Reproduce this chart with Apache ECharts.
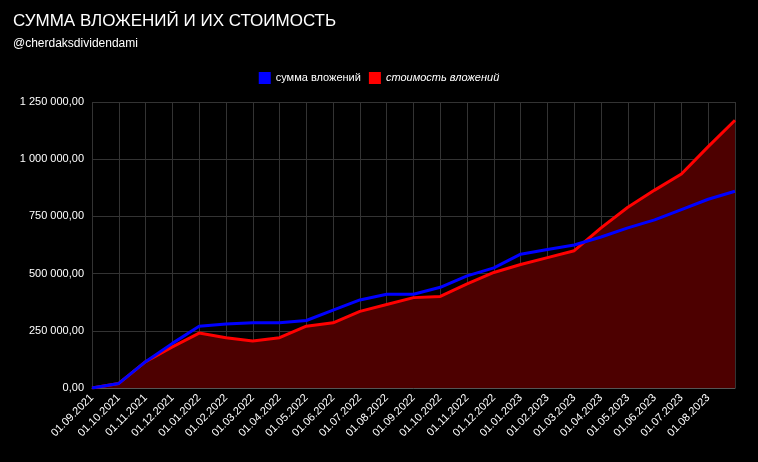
<!DOCTYPE html>
<html><head><meta charset="utf-8">
<script src="https://cdn.jsdelivr.net/npm/echarts@6/dist/echarts.min.js"></script>
<style>html,body{margin:0;background:#000}#c{width:758px;height:462px}</style>
</head><body><div id="c"></div>
<script>
var dates = ['01.09.2021','01.10.2021','01.11.2021','01.12.2021','01.01.2022','01.02.2022','01.03.2022','01.04.2022','01.05.2022','01.06.2022','01.07.2022','01.08.2022','01.09.2022','01.10.2022','01.11.2022','01.12.2022','01.01.2023','01.02.2023','01.03.2023','01.04.2023','01.05.2023','01.06.2023','01.07.2023','01.08.2023','01.09.2023'];
var invested = [0,20000,115000,195000,270000,280000,285000,285000,295000,340000,385000,410000,410000,440000,490000,525000,585000,605000,625000,660000,700000,735000,780000,825000,860000];
var value = [0,20000,115000,180000,240000,220000,205000,220000,270000,285000,335000,365000,395000,400000,455000,505000,540000,570000,600000,700000,790000,865000,935000,1055000,1170000];

function fmt(v) {
	var s = Math.round(v).toString().replace(/\B(?=(\d{3})+(?!\d))/g, ' ');
	return s + ',00';
}

var chart = echarts.init(document.getElementById('c'));
chart.setOption({
	backgroundColor: '#000',
	title: {
		text: 'СУММА ВЛОЖЕНИЙ И ИХ СТОИМОСТЬ',
		subtext: '@cherdaksdividendami',
		left: 8, top: 8,
		textStyle: {color: '#fff', fontSize: 17, fontWeight: 'normal', fontFamily: 'Liberation Sans'},
		subtextStyle: {color: '#fff', fontSize: 12, fontFamily: 'Liberation Sans'},
		itemGap: 8
	},
	legend: {
		top: 67, left: 'center', itemWidth: 12, itemHeight: 12, icon: 'rect',
		textStyle: {color: '#fff', fontSize: 11},
		data: [{name: 'сумма вложений'}, {name: 'стоимость вложений', textStyle: {fontStyle: 'italic'}}]
	},
	grid: {left: 92, right: 23, top: 102, bottom: 74},
	xAxis: {
		type: 'category', boundaryGap: false, data: dates,
		axisLine: {lineStyle: {color: '#555'}},
		axisTick: {show: false},
		splitLine: {show: true, lineStyle: {color: '#333'}},
		axisLabel: {color: '#fff', rotate: 45, fontSize: 11, interval: 0,
			formatter: function (v, i) { return i === dates.length - 1 ? '' : v; }}
	},
	yAxis: {
		type: 'value', min: 0, max: 1250000, interval: 250000,
		axisLine: {show: false},
		splitLine: {lineStyle: {color: '#333'}},
		axisLabel: {color: '#fff', fontSize: 11, formatter: fmt}
	},
	series: [
		{name: 'стоимость вложений', type: 'line', data: value, showSymbol: false,
			color: '#ff0000', lineStyle: {width: 3}, areaStyle: {color: '#4d0000', opacity: 1}, z: 2},
		{name: 'сумма вложений', type: 'line', data: invested, showSymbol: false,
			color: '#0000ff', lineStyle: {width: 3}, z: 3}
	]
});
</script></body></html>
